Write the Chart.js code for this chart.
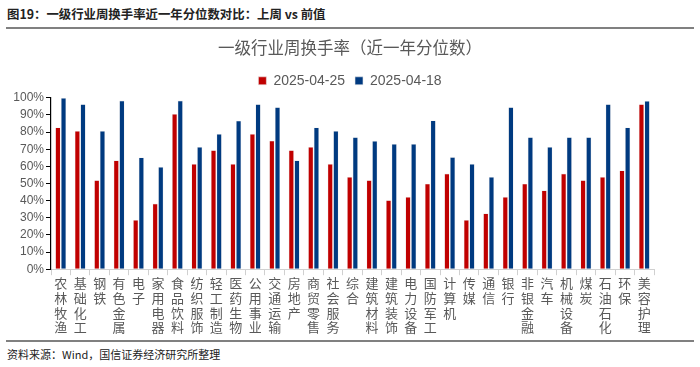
<!DOCTYPE html>
<html>
<head>
<meta charset="utf-8">
<script src="https://cdn.jsdelivr.net/npm/chart.js@4.4.1/dist/chart.umd.min.js"></script>
<style>
  body { margin: 0; width: 700px; height: 367px; background: #fff; position: relative; overflow: hidden;
         font-family: "Noto Sans CJK SC", "Noto Sans", sans-serif; }
  #head { position: absolute; left: 7px; top: 5px; font-size: 12.4px; font-weight: bold; color: #222; }
  #rule1 { position: absolute; left: 6px; right: 6px; top: 27px; height: 2px; background: #808080; }
  #rule2 { position: absolute; left: 6px; right: 6px; top: 340px; height: 2px; background: #808080; }
  #src { position: absolute; left: 7px; top: 346px; font-size: 11px; color: #222; }
  #wrap { position: absolute; left: 0; top: 30px; width: 700px; height: 308px; }
</style>
</head>
<body>
<div id="head">图19：一级行业周换手率近一年分位数对比：上周 vs 前值</div>
<div id="rule1"></div>
<div id="wrap"><canvas id="turnoverChart"></canvas></div>
<div id="rule2"></div>
<div id="src">资料来源：Wind，国信证券经济研究所整理</div>
<script>
const industries = ['农林牧渔', '基础化工', '钢铁', '有色金属', '电子', '家用电器', '食品饮料', '纺织服饰',
    '轻工制造', '医药生物', '公用事业', '交通运输', '房地产', '商贸零售', '社会服务', '综合',
    '建筑材料', '建筑装饰', '电力设备', '国防军工', '计算机', '传媒', '通信', '银行',
    '非银金融', '汽车', '机械设备', '煤炭', '石油石化', '环保', '美容护理'];

// 2025-04-25 (last week)
const lastWeek = [82.7, 80.7, 51.9, 63.5, 28.7, 38.3, 90.6, 61.5, 69.4, 61.5, 79.0, 75.0, 69.4, 71.3, 61.5, 53.8,
    51.9, 40.3, 42.2, 49.9, 55.8, 28.7, 32.6, 42.2, 49.9, 46.0, 55.8, 51.9, 53.8, 57.6, 96.3];
// 2025-04-18 (previous)
const prevWeek = [100, 96.3, 80.7, 98.4, 65.2, 59.7, 98.4, 71.3, 79.0, 86.6, 96.3, 94.5, 63.5, 82.7, 80.7, 77.0,
    74.9, 73.1, 73.1, 86.8, 65.4, 61.5, 53.8, 94.5, 77.0, 71.3, 77.0, 77.0, 96.3, 82.7, 98.2];

const seriesNames = ['2025-04-25', '2025-04-18'];
const yTicks = [0, 10, 20, 30, 40, 50, 60, 70, 80, 90, 100];

const ctx = document.getElementById('turnoverChart').getContext('2d');
const turnoverChart = new Chart(ctx, {
    type: 'bar',
    data: {
        labels: industries.map(s => s.split('')),
        datasets: [{
            label: seriesNames[0],
            data: lastWeek,
            backgroundColor: '#C00000',
            borderColor: '#e8e8e8',
            borderWidth: 0.6
        }, {
            label: seriesNames[1],
            data: prevWeek,
            backgroundColor: '#003A80',
            borderColor: '#e8e8e8',
            borderWidth: 0.6
        }]
    },
    options: {
        responsive: true,
        maintainAspectRatio: false,
        animation: false,
        datasets: {
            bar: { categoryPercentage: 0.58, barPercentage: 0.95 }
        },
        layout: { padding: { left: 4, right: 4, top: 0, bottom: 3 } },
        plugins: {
            title: {
                display: true,
                text: '一级行业周换手率（近一年分位数）',
                color: '#595959',
                font: { family: '"Noto Sans CJK SC"', size: 16.5, weight: 'normal' },
                padding: { top: 8, bottom: 6 }
            },
            legend: {
                labels: {
                    boxWidth: 8,
                    boxHeight: 8,
                    color: '#595959',
                    font: { family: '"Liberation Sans", Arial', size: 14 },
                    padding: 10
                }
            },
            tooltip: { enabled: false }
        },
        scales: {
            x: {
                grid: { drawOnChartArea: false, drawTicks: true, tickLength: 6, color: '#d0d0d0' },
                border: { display: true, color: '#d0d0d0', width: 1 },
                ticks: {
                    autoSkip: false,
                    maxRotation: 0,
                    minRotation: 0,
                    color: '#595959',
                    padding: 0,
                    font: { family: '"Noto Sans CJK SC"', size: 13, lineHeight: 1.15 }
                }
            },
            y: {
                min: 0,
                max: 100,
                afterBuildTicks: axis => { axis.ticks = yTicks.map(v => ({ value: v })); },
                afterFit: axis => { axis.width = 47; },
                grid: { drawOnChartArea: false, drawTicks: true, tickLength: 5, color: '#000' },
                border: { display: true, color: '#000', width: 1.2 },
                ticks: {
                    autoSkip: false,
                    color: '#595959',
                    padding: 2,
                    font: { family: '"Liberation Sans", Arial', size: 12 },
                    callback: v => v + '%'
                }
            },
            // empty right axis, only reserves the right margin
            y2: {
                position: 'right',
                display: true,
                grid: { display: false },
                border: { display: false },
                ticks: { display: false },
                afterFit: axis => { axis.width = 42; }
            }
        }
    }
});
</script>
</body>
</html>
